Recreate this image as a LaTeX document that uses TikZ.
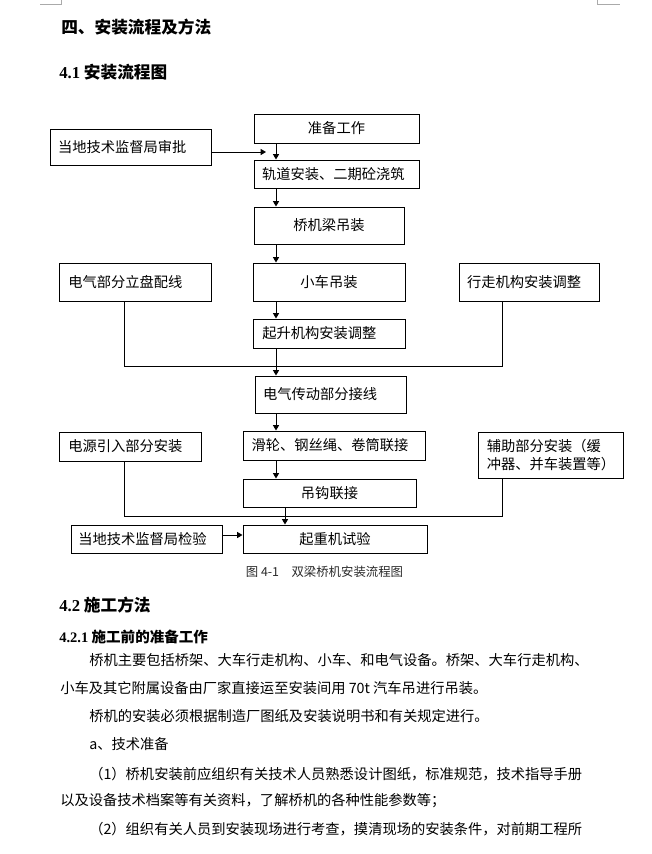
\documentclass[tikz,border=0pt]{standalone}
\usepackage{fontspec}
\setmainfont{Noto Sans CJK SC}
\newfontfamily\latinserif{Liberation Serif}
\usepackage{xcolor}
\definecolor{markgray}{RGB}{170,170,170}
\definecolor{captiongray}{RGB}{40,40,40}
\usetikzlibrary{arrows.meta,positioning,calc}
\XeTeXlinebreaklocale "zh"
\XeTeXlinebreakskip=0pt plus 1pt

\begin{document}
\begin{tikzpicture}[
  x=0.75pt, y=-0.75pt,
  box/.style={rectangle, draw=black, line width=0.75pt, inner xsep=6pt, inner ysep=0pt,
              align=center, font=\fontsize{10.7}{14}\selectfont},
  lbox/.style={box, align=left},
  arr/.style={-{Triangle[length=4pt,width=4.5pt]}, line width=0.75pt, color=black},
  bus/.style={line width=0.75pt, color=black},
  cropmark/.style={line width=0.75pt, color=markgray},
  heading/.style={anchor=west, inner sep=0pt, font=\fontsize{12.5}{15}\selectfont\bfseries},
  subheading/.style={anchor=west, inner sep=0pt, font=\fontsize{10.9}{13}\selectfont\bfseries},
  caption/.style={inner sep=0pt, font=\fontsize{9.3}{11}\selectfont, text=captiongray},
  bodyline/.style={anchor=west, inner sep=0pt, font=\fontsize{10.7}{14}\selectfont}
]
\useasboundingbox (0,0) rectangle (651,854);

%% page corner marks
\draw[cropmark] (40,4) -- (61,4) -- (61,0);
\draw[cropmark] (597,0) -- (597,4) -- (620,4);

%% headings
\node[heading] (secfour) at (61,27) {四、安装流程及方法};
\node[heading] (secflow) at (59,72) {{\latinserif 4.1} 安装流程图};

%% guide coordinates
\coordinate (spine) at (276,0);
\coordinate (hookx) at (285,0);
\coordinate (busL) at (124,0);
\coordinate (busR) at (502,0);
\coordinate (busup) at (0,366);
\coordinate (buslow) at (0,516);
\coordinate (merge) at (266,152);
\coordinate (inspy) at (0,535);

%% flow boxes
\node[box, minimum width=123.75pt, minimum height=21.75pt] (prep) at (336.5,128.5) {准备工作};
\node[lbox, text width=108.75pt, minimum height=27pt] (apprv) at (130.5,147) {当地技术监督局审批};
\node[lbox, text width=111.75pt, minimum height=21pt] (rail) at (336.5,174) {轨道安装、二期砼浇筑};
\node[box, minimum width=112.5pt, minimum height=27.75pt] (beam) at (329,225.5) {桥机梁吊装};
\node[lbox, text width=100pt, inner xsep=7pt, minimum height=28.5pt] (elec) at (135,282) {电气部分立盘配线};
\node[box, minimum width=114pt, minimum height=28.5pt] (trol) at (329,282) {小车吊装};
\node[lbox, text width=93pt, minimum height=28.5pt] (trav) at (529,282) {行走机构安装调整};
\node[lbox, text width=100pt, inner xsep=7pt, minimum height=21.75pt] (hoist) at (329,333.5) {起升机构安装调整};
\node[lbox, text width=101.25pt, minimum height=27.75pt] (drive) at (330.5,394.5) {电气传动部分接线};
\node[lbox, text width=92.5pt, inner xsep=7pt, minimum height=21.75pt] (power) at (130,446.5) {电源引入部分安装};
\node[lbox, text width=124.5pt, minimum height=21.75pt] (rope) at (334.5,445.5) {滑轮、钢丝绳、卷筒联接};
\node[lbox, minimum width=105pt, minimum height=34.5pt] (aux) at (551,455) {辅助部分安装（缓\\冲器、并车装置等）};
\node[box, minimum width=129.75pt, minimum height=21pt] (hook) at (329.5,493) {吊钩联接};
\node[lbox, text width=102.25pt, inner xsep=5.5pt, minimum height=21pt] (insp) at (146.5,539) {当地技术监督局检验};
\node[box, minimum width=138pt, minimum height=21pt] (test) at (335,539) {起重机试验};

%% main line
\draw[arr] (prep.south -| spine) -- (rail.north -| spine);
\draw[arr] (apprv.east |- merge) -- (merge);
\draw[arr] (rail.south -| spine) -- (beam.north -| spine);
\draw[arr] (beam.south -| spine) -- (trol.north -| spine);
\draw[arr] (trol.south -| spine) -- (hoist.north -| spine);
\draw[arr] (hoist.south -| spine) -- (drive.north -| spine);
\draw[arr] (drive.south -| spine) -- (rope.north -| spine);
\draw[arr] (rope.south -| spine) -- (hook.north -| spine);
\draw[arr] (hook.south -| hookx) -- (test.north -| hookx);
\draw[arr] (insp.east |- inspy) -- (test.west |- inspy);

%% side branches
\draw[bus] (elec.south -| busL) -- (busL |- busup) -- (busR |- busup) -- (trav.south -| busR);
\draw[bus] (power.south -| busL) -- (busL |- buslow) -- (busR |- buslow) -- (aux.south -| busR);

\node[caption] (figcap) at (324.5,572) {图 4-1　双梁桥机安装流程图};

%% text below the figure
\node[heading] (secmeth) at (59,605) {{\latinserif 4.2} 施工方法};
\node[subheading] (secprep) at (59,637) {{\latinserif 4.2.1} 施工前的准备工作};
\node[bodyline] (ln1) at (89,660) {\makebox[377pt][s]{桥机主要包括桥架、大车行走机构、小车、和电气设备。桥架、大车行走机构、}};
\node[bodyline] (ln2) at (60,688) {小车及其它附属设备由厂家直接运至安装间用 70t 汽车吊进行吊装。};
\node[bodyline] (ln3) at (89,716) {桥机的安装必须根据制造厂图纸及安装说明书和有关规定进行。};
\node[bodyline] (ln4) at (89,744) {a、技术准备};
\node[bodyline] (ln5) at (89,774) {\makebox[380pt][s]{（1）桥机安装前应组织有关技术人员熟悉设计图纸，标准规范，技术指导手册}};
\node[bodyline] (ln6) at (60,801) {以及设备技术档案等有关资料，了解桥机的各种性能参数等；};
\node[bodyline] (ln7) at (89,829) {\makebox[380pt][s]{（2）组织有关人员到安装现场进行考查，摸清现场的安装条件，对前期工程所}};

\end{tikzpicture}
\end{document}
